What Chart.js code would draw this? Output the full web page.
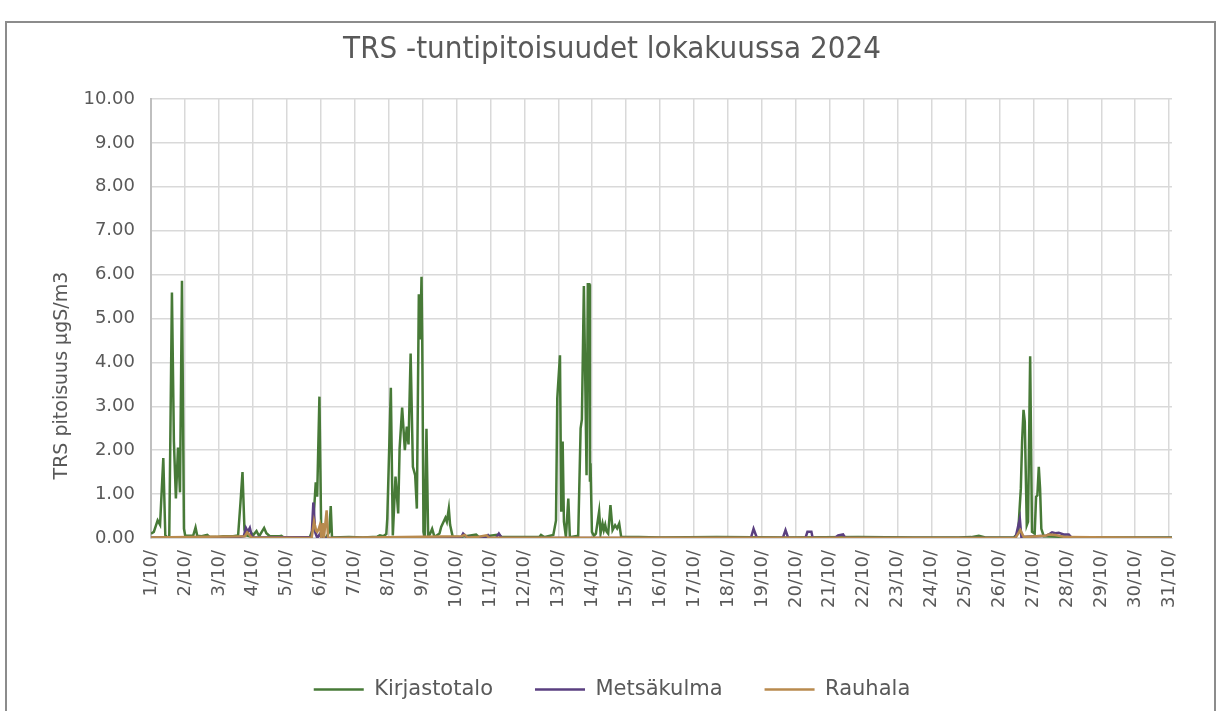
<!DOCTYPE html>
<html><head><meta charset="utf-8">
<script src="https://cdn.jsdelivr.net/npm/chart.js@4.4.1/dist/chart.umd.min.js"></script>
<style>
html,body{margin:0;padding:0;background:#fff;}
#wrap{position:relative;width:1216px;height:711px;overflow:hidden;background:#fff;}
#frame{position:absolute;left:5px;top:21px;width:1211px;height:730px;border:2px solid #8c8c8c;box-sizing:border-box;}
canvas{position:absolute;left:0;top:0;}
</style></head><body>
<div id="wrap"><div id="frame"></div><canvas id="c" width="1216" height="711"></canvas></div>
<script>
const dayLabels = ['1/10/','2/10/','3/10/','4/10/','5/10/','6/10/','7/10/','8/10/','9/10/','10/10/',
  '11/10/','12/10/','13/10/','14/10/','15/10/','16/10/','17/10/','18/10/','19/10/','20/10/',
  '21/10/','22/10/','23/10/','24/10/','25/10/','26/10/','27/10/','28/10/','29/10/','30/10/','31/10/'];
const yAxisTitle = 'TRS pitoisuus µgS/m3';
const chartTitle = 'TRS -tuntipitoisuudet lokakuussa 2024';

// hours since 1/10 00:00
const kirjHours = [0,2,4.7,6.4,8.7,10.1,10.6,12.9,14.8,16.2,17.6,19.1,20.5,21.9,23.3,24.2,27.5,29.9,31.5,32.7,35.8,39.8,41.6,46.4,51,58.1,61.6,63.3,64.7,66.1,67.5,69.9,71,72.2,74.6,76.5,80,81.6,84,91,92.2,93.9,112.2,114.5,116.5,117.5,119.1,120.3,121.2,124,126.1,127.1,128,140,150,160,161.9,164.2,166.4,167.1,169.6,171,172.9,174.8,175.8,177.6,179.5,180.9,182.1,183.6,185.2,186.8,188,189.4,190.4,191.3,191.8,192.7,193.6,194.8,196,197.4,198.8,200.5,204,205.2,208.2,209.2,210.6,211.5,213.4,218,229.9,232,246,248,260,274.6,275.8,278,284.5,286.4,287.3,289.2,290.1,291.1,292,293.4,295.1,296.2,302.1,303.8,304.7,306.1,307.1,308,308.9,309.9,310.4,310.8,311.8,313.2,314.6,316.9,317.9,319.3,320.2,321.2,322.1,323.3,324.9,326.4,328.2,329.6,331.1,332.5,345,360,400,450,500,540,571,580,585.4,590,610,613.2,615.1,616,617,617.9,619.3,620.2,621.7,623,624.9,625.9,626.8,627.8,628.7,629.6,631.3,650,680,722];
const kirjValues = [0.10,0.14,0.40,0.30,1.82,0.07,0.00,0.00,5.59,2.20,0.90,2.06,1.04,5.86,0.21,0.05,0.05,0.06,0.24,0.05,0.04,0.07,0.02,0.02,0.04,0.04,0.06,0.82,1.50,0.19,0.06,0.04,0.11,0.06,0.16,0.04,0.23,0.11,0.04,0.04,0.05,0.01,0.01,0.20,1.27,0.94,3.22,0.30,0.01,0.02,0.14,0.73,0.01,0.02,0.01,0.03,0.06,0.04,0.09,0.45,3.42,0.06,1.40,0.56,2.04,2.97,2.00,2.54,2.13,4.20,1.62,1.43,0.67,5.55,4.52,5.95,4.56,0.14,0.02,2.49,0.02,0.10,0.21,0.02,0.10,0.25,0.46,0.37,0.67,0.30,0.02,0.02,0.08,0.02,0.08,0.02,0.02,0.02,0.07,0.02,0.07,0.40,3.19,4.16,0.60,2.20,0.37,0.02,0.90,0.02,0.05,2.50,2.70,5.74,3.57,1.43,5.78,5.78,1.28,1.70,0.14,0.05,0.10,0.61,0.10,0.33,0.18,0.30,0.15,0.10,0.75,0.18,0.29,0.22,0.33,0.02,0.02,0.01,0.02,0.01,0.02,0.01,0.01,0.02,0.05,0.01,0.01,0.11,1.13,2.20,2.92,2.65,0.29,0.37,4.14,0.14,0.10,0.94,0.97,1.62,1.13,0.21,0.04,0.02,0.01,0.01];

const metsHours = [0,60,65.6,67.1,68.5,69.9,71.3,73,113.6,114.8,116.2,117.6,119.5,120.5,219,220.7,223,237,238.4,240,244,246,248,424.2,426.1,428.5,446.8,448.7,450.6,462.8,464.2,467,467.9,483.5,485.9,489.4,491,611.3,614.4,615.5,632.9,634.8,637.2,639.5,641.9,645.4,649,651.3,722];
const metsValues = [0.01,0.01,0.04,0.23,0.14,0.23,0.04,0.01,0.02,0.81,0.12,0.00,0.10,0.00,0.00,0.10,0.03,0.00,0.06,0.00,0.00,0.10,0.00,0.00,0.21,0.00,0.00,0.18,0.00,0.00,0.14,0.14,0.00,0.00,0.06,0.08,0.00,0.00,0.44,0.02,0.05,0.08,0.13,0.11,0.12,0.08,0.08,0.00,0.00];

const rauhHours = [0,66.4,68,69.9,71,113.6,115.3,116.7,117.6,118.6,119.5,120.5,121.4,122.4,124.2,125.2,219.5,221.9,224,230.1,237.2,239,611.3,614.8,617.2,632.5,634.8,639.5,641.9,646.6,722];
const rauhValues = [0.01,0.04,0.13,0.06,0.01,0.00,0.38,0.17,0.14,0.21,0.30,0.00,0.34,0.04,0.63,0.00,0.04,0.07,0.01,0.02,0.06,0.01,0.00,0.18,0.02,0.05,0.08,0.07,0.05,0.02,0.00];

const seriesNames = ['Kirjastotalo','Metsäkulma','Rauhala'];
const seriesColors = ['#477a37','#5a3f80','#b88a4e'];

const toPts = (h, v) => h.map((x, i) => ({x: x, y: v[i]}));
const txt = '#595959';
const tickFont = {family: '"DejaVu Sans", sans-serif', size: 18};

// y-axis title placed on the y scale (lower than the axis centre, as in the original)
const yTitlePlugin = {
  id: 'yTitle',
  afterDraw(chart) {
    const ctx = chart.ctx;
    const ys = chart.scales.y;
    ctx.save();
    ctx.translate(62, ys.getPixelForValue(3.7));
    ctx.rotate(-Math.PI / 2);
    ctx.font = '19px "DejaVu Sans", sans-serif';
    ctx.fillStyle = txt;
    ctx.textAlign = 'center';
    ctx.textBaseline = 'middle';
    ctx.fillText(yAxisTitle, 0, 0);
    ctx.restore();
  }
};

new Chart(document.getElementById('c'), {
  type: 'line',
  plugins: [yTitlePlugin],
  data: {
    datasets: [
      {label: seriesNames[0], data: toPts(kirjHours, kirjValues), borderColor: seriesColors[0], backgroundColor: seriesColors[0], borderWidth: 2.5, pointRadius: 0, tension: 0, order: 2},
      {label: seriesNames[1], data: toPts(metsHours, metsValues), borderColor: seriesColors[1], backgroundColor: seriesColors[1], borderWidth: 2.5, pointRadius: 0, tension: 0, order: 1},
      {label: seriesNames[2], data: toPts(rauhHours, rauhValues), borderColor: seriesColors[2], backgroundColor: seriesColors[2], borderWidth: 2.5, pointRadius: 0, tension: 0, order: 0}
    ]
  },
  options: {
    responsive: false, animation: false, devicePixelRatio: 1,
    layout: {padding: {left: 52, right: 44, top: 0, bottom: 1}},
    plugins: {
      title: {display: true, text: chartTitle, color: txt,
        font: {family: '"DejaVu Sans Condensed", "DejaVu Sans", sans-serif', size: 31, weight: 'normal', lineHeight: 1.2},
        padding: {top: 31, bottom: 30.8}},
      legend: {position: 'bottom',
        labels: {usePointStyle: true, pointStyle: 'line', pointStyleWidth: 50, padding: 42, color: txt,
          font: {family: '"DejaVu Sans", sans-serif', size: 21},
          sort: (a, b) => a.datasetIndex - b.datasetIndex}},
      tooltip: {enabled: false}
    },
    scales: {
      x: {type: 'linear', min: 0, max: 722,
        afterFit: s => { s.height = 99; },
        grid: {color: '#d9d9d9', lineWidth: 1.5, drawTicks: false},
        border: {color: '#d9d9d9'},
        ticks: {stepSize: 24, includeBounds: false, autoSkip: false, minRotation: 90, maxRotation: 90, padding: 12,
          color: txt, font: tickFont,
          callback: v => (v % 24 === 0 ? dayLabels[v / 24] : '')}},
      y: {min: 0, max: 10,
        afterFit: s => { s.width = 99; },
        grid: {color: '#d9d9d9', lineWidth: 1.5, drawTicks: false},
        border: {color: '#bfbfbf', width: 2},
        ticks: {stepSize: 1, padding: 16, color: txt, font: tickFont, callback: v => v.toFixed(2)},
        title: {display: false}}
    }
  }
});
</script>
</body></html>
